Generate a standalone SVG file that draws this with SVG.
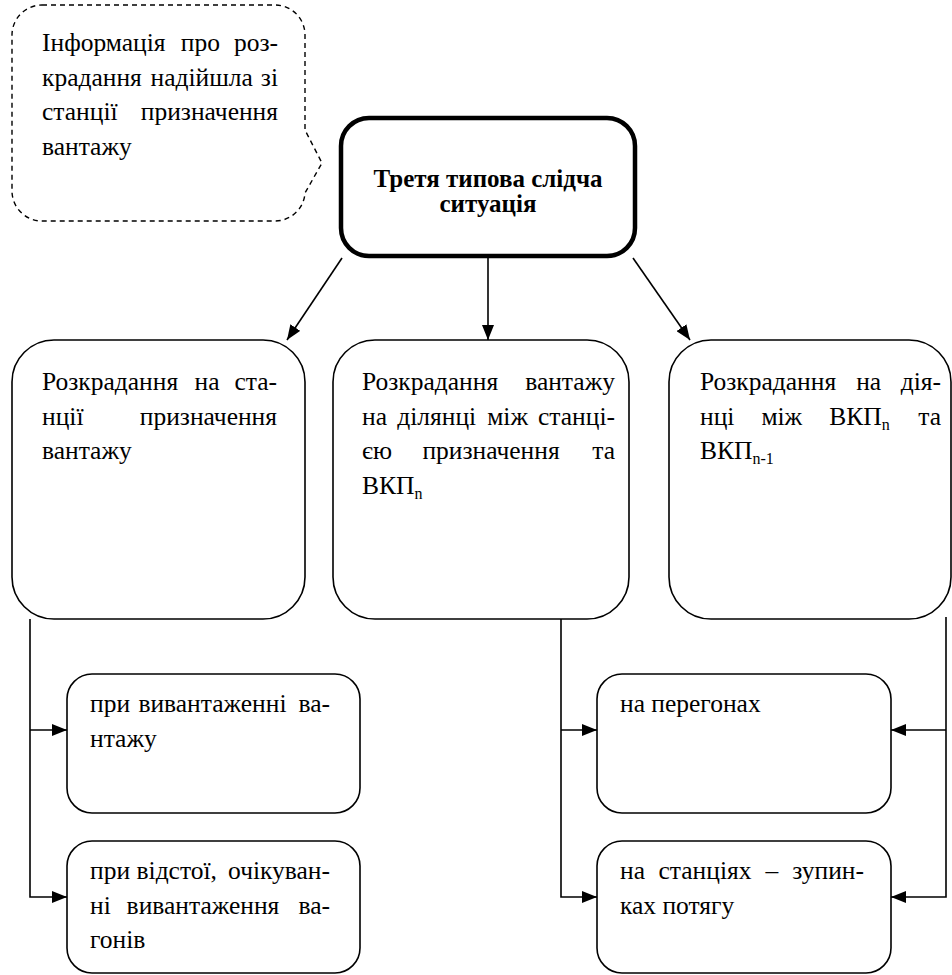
<svg xmlns="http://www.w3.org/2000/svg" width="952" height="975" viewBox="0 0 952 975">
<style>
  text { font-family: 'Liberation Serif', 'Tinos', 'Times New Roman', 'DejaVu Serif', serif; fill: #000; }
  .t { font-size: 25.5px; }
  .e { text-anchor: end; }
  .title { font-size: 25px; font-weight: bold; text-anchor: middle; }
  .sub { font-size: 16px; }
  .box { fill: #fff; stroke: #000; stroke-width: 1.6; }
  .main { fill: #fff; stroke: #000; stroke-width: 4.5; }
  .call { fill: none; stroke: #000; stroke-width: 1.4; stroke-dasharray: 5 4; }
  .con { fill: none; stroke: #000; stroke-width: 1.6; }
</style>
<defs>
  <marker id="ah" markerUnits="userSpaceOnUse" markerWidth="16" markerHeight="12" refX="15" refY="6" orient="auto">
    <path d="M0,0 L15,6 L0,12 Z" fill="#000"/>
  </marker>
</defs>

<g id="callout">
  <path class="call" d="M42,5 H275 A30,30 0 0 1 305,35 V130 L322,163 L305,193 A30,30 0 0 1 275,221 H42 A30,30 0 0 1 12,191 V35 A30,30 0 0 1 42,5 Z"/>
  <text class="t" y="51"><tspan x="42">Інформація</tspan><tspan x="180.8">про</tspan><tspan x="278" class="e">роз-</tspan></text>
  <text class="t" y="85.5"><tspan x="42">крадання</tspan><tspan x="150.5">надійшла</tspan><tspan x="278" class="e">зі</tspan></text>
  <text class="t" y="120"><tspan x="42">станції</tspan><tspan x="278" class="e">призначення</tspan></text>
  <text class="t" y="154.5" x="42">вантажу</text>
</g>

<g id="main">
  <rect class="main" x="341" y="118" width="294" height="138" rx="28"/>
  <text class="title" x="488" y="187">Третя типова слідча</text>
  <text class="title" x="488" y="212">ситуація</text>
</g>

<g id="box1">
  <rect class="box" x="12" y="340" width="293" height="279" rx="42"/>
  <text class="t" y="390"><tspan x="42">Розкрадання</tspan><tspan x="194.6">на</tspan><tspan x="277" class="e">ста-</tspan></text>
  <text class="t" y="424.5"><tspan x="42">нції</tspan><tspan x="277" class="e">призначення</tspan></text>
  <text class="t" y="459" x="42">вантажу</text>
</g>

<g id="box2">
  <rect class="box" x="333" y="340" width="296" height="279" rx="42"/>
  <text class="t" y="390"><tspan x="362">Розкрадання</tspan><tspan x="615" class="e">вантажу</tspan></text>
  <text class="t" y="424.5"><tspan x="362">на</tspan><tspan x="397.3">ділянці</tspan><tspan x="487.2">між</tspan><tspan x="615" class="e">станці-</tspan></text>
  <text class="t" y="459"><tspan x="362">єю</tspan><tspan x="422.4">призначення</tspan><tspan x="615" class="e">та</tspan></text>
  <text class="t" y="493.5" x="362">ВКП<tspan class="sub" dy="5">n</tspan></text>
</g>

<g id="box3">
  <rect class="box" x="669" y="340" width="282" height="279" rx="42"/>
  <text class="t" y="390"><tspan x="700">Розкрадання</tspan><tspan x="856.2">на</tspan><tspan x="941" class="e">дія-</tspan></text>
  <text class="t" y="424.5"><tspan x="700">нці</tspan><tspan x="761.4">між</tspan><tspan x="829.3">ВКП</tspan><tspan class="sub" dy="5">n</tspan><tspan x="941" dy="-5" class="e">та</tspan></text>
  <text class="t" y="459" x="700">ВКП<tspan class="sub" dy="5">n-1</tspan></text>
</g>

<g id="sub1">
  <rect class="box" x="67" y="674" width="293" height="139" rx="25"/>
  <text class="t" y="712"><tspan x="90">при</tspan><tspan x="138.4">вивантаженні</tspan><tspan x="330" class="e">ва-</tspan></text>
  <text class="t" y="746.5" x="90">нтажу</text>
</g>

<g id="sub2">
  <rect class="box" x="67" y="841" width="293" height="132" rx="25"/>
  <text class="t" y="879"><tspan x="90">при</tspan><tspan x="136.5">відстої,</tspan><tspan x="330" class="e">очікуван-</tspan></text>
  <text class="t" y="913.5"><tspan x="90">ні</tspan><tspan x="126.6">вивантаження</tspan><tspan x="330" class="e">ва-</tspan></text>
  <text class="t" y="948" x="90">гонів</text>
</g>

<g id="sub3">
  <rect class="box" x="597" y="674" width="294" height="139" rx="25"/>
  <text class="t" y="712" x="620">на перегонах</text>
</g>

<g id="sub4">
  <rect class="box" x="597" y="841" width="294" height="132" rx="25"/>
  <text class="t" y="879"><tspan x="620">на</tspan><tspan x="658.5">станціях</tspan><tspan x="765.5">–</tspan><tspan x="864" class="e">зупин-</tspan></text>
  <text class="t" y="913.5" x="620">ках потягу</text>
</g>

<g id="connectors">
  <line class="con" x1="342" y1="258" x2="287" y2="340" marker-end="url(#ah)"/>
  <line class="con" x1="488" y1="258" x2="488" y2="340" marker-end="url(#ah)"/>
  <line class="con" x1="633" y1="258" x2="690" y2="340" marker-end="url(#ah)"/>
  <polyline class="con" points="30,619 30,897 67,897" marker-end="url(#ah)"/>
  <line class="con" x1="30" y1="730" x2="67" y2="730" marker-end="url(#ah)"/>
  <polyline class="con" points="561,619 561,897 597,897" marker-end="url(#ah)"/>
  <line class="con" x1="561" y1="730" x2="597" y2="730" marker-end="url(#ah)"/>
  <polyline class="con" points="946,617 946,897 891,897" marker-end="url(#ah)"/>
  <line class="con" x1="946" y1="730" x2="891" y2="730" marker-end="url(#ah)"/>
</g>
</svg>
